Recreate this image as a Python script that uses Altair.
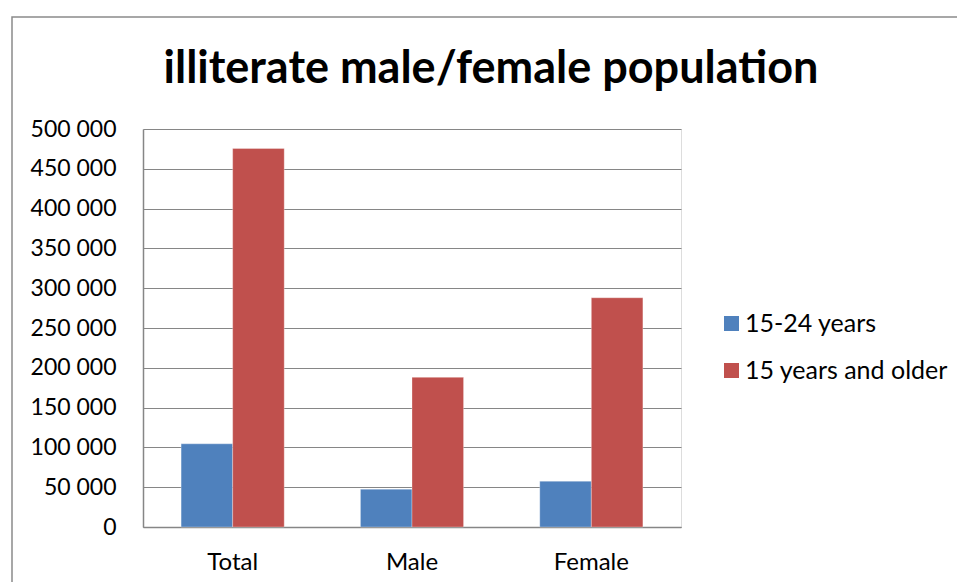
import altair as alt
import pandas as pd

# Illiterate population by sex and age group
categories = ["Total", "Male", "Female"]
series = ["15-24 years", "15 years and older"]
youth = [104500, 47500, 57500]
adults = [475500, 188000, 288000]
title_text = "illiterate male/female population"

colors = ["#4F81BD", "#C0504D"]
font = "Lato"

rows = []
for c, y1, y2 in zip(categories, youth, adults):
    rows.append({"group": c, "series": series[0], "value": y1})
    rows.append({"group": c, "series": series[1], "value": y2})
df = pd.DataFrame(rows)

W, H = 538, 398
PAD_L, PAD_T = 143, 129

bars = alt.Chart(df).mark_bar(stroke="white", strokeOpacity=0.5, strokeWidth=0.6).encode(
    x=alt.X("group:N", sort=categories, title=None,
            scale=alt.Scale(paddingInner=0.425, paddingOuter=0.2125),
            axis=alt.Axis(labelAngle=0, labelFontSize=24, labelFont=font, labelColor="black",
                          ticks=False, labelPadding=23, domainColor="#868686", domainWidth=1.5)),
    xOffset=alt.XOffset("series:N", sort=series),
    y=alt.Y("value:Q", title=None,
            scale=alt.Scale(domain=[0, 500000], nice=False),
            axis=alt.Axis(values=list(range(0, 500001, 50000)), ticks=False,
                          labelExpr="replace(format(datum.value, ','), regexp(',', 'g'), ' ')",
                          labelFontSize=23, labelFont=font, labelColor="black", labelPadding=27,
                          grid=True, gridColor="#868686", gridWidth=1.2,
                          domainColor="#868686", domainWidth=1.5)),
    color=alt.Color("series:N", sort=series, title=None,
                    scale=alt.Scale(domain=series, range=colors),
                    legend=alt.Legend(orient="none", legendX=576, legendY=182,
                                      symbolType="square", symbolSize=225, symbolStrokeWidth=0,
                                      symbolOpacity=1, labelFontSize=25, labelFont=font,
                                      labelColor="black", labelLimit=0, rowPadding=21,
                                      labelOffset=1)),
)

# outer frame around the whole chart
frame = alt.Chart(pd.DataFrame({"v": [0]})).mark_rect(
    fill=None, stroke="#8a8a8a", strokeWidth=1.5
).encode(
    x=alt.value(12 - PAD_L), x2=alt.value(W + 400),
    y=alt.value(17 - PAD_T), y2=alt.value(H + 200),
)

title = alt.Chart(pd.DataFrame({"t": [title_text]})).mark_text(
    font=font, fontSize=45, fontWeight="bold", color="black",
    align="center", baseline="alphabetic"
).encode(text="t:N", x=alt.value(348), y=alt.value(-46))

chart = alt.layer(frame, bars, title).properties(
    width=W, height=H,
    autosize=alt.AutoSizeParams(type="none"),
    padding={"left": PAD_L, "top": PAD_T, "right": 957 - PAD_L - W, "bottom": 582 - PAD_T - H},
).configure_view(stroke=None).configure(background="white")

chart.save("out.html", embed_options={"renderer": "svg", "actions": False})
